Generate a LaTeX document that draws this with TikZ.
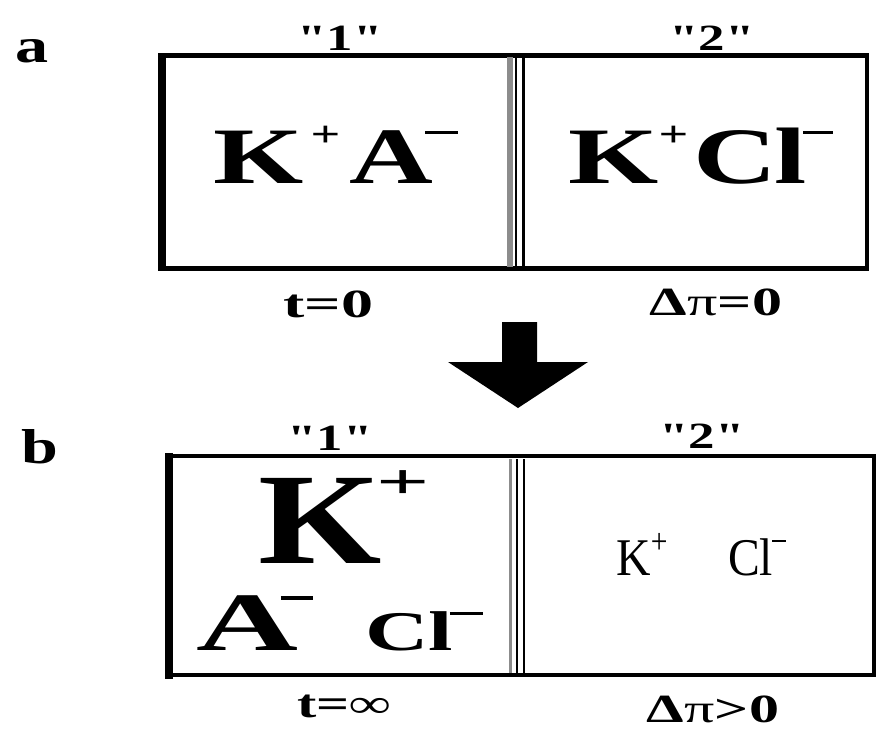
\documentclass[tikz,border=0pt]{standalone}
\usepackage{fontspec}
\setmainfont{Liberation Serif}
\usepackage{graphicx}
\newcommand\fsz[1]{\fontsize{#1pt}{#1pt}\selectfont}
\newcommand\qq{\XeTeXglyph\XeTeXcharglyph"22\relax}
\tikzset{
  frame/.style={line width=4.5pt},
  txt/.style={inner sep=0pt, outer sep=0pt},
  graywall/.style={fill=black!45},
}
\begin{document}
\begin{tikzpicture}[x=1pt,y=-1pt]
\useasboundingbox[fill=white] (0,0) rectangle (880,739);
% panel labels
\node[txt,anchor=base west] (pa) at (16,62) {\fsz{49}\bfseries\scalebox{1.35}[1]{a}};
\node[txt,anchor=base west] (pb) at (21,463) {\fsz{49}\bfseries\scalebox{1.35}[1]{b}};
% ---------- box a ----------
\draw[frame] (160,55.5) rectangle (867,268.5);
\fill (158,53) rectangle (166,271);
\fill[graywall] (507,57) rectangle (513,267);
\draw[line width=1.5pt] (516,57) -- (516,267);
\draw[line width=2.5pt] (523.5,57) -- (523.5,267);
\node[txt,anchor=base] (a1) at (340,50) {\fsz{37}\bfseries\scalebox{1.43}[1]{\qq1\qq}};
\node[txt,anchor=base] (a2) at (712,50) {\fsz{37}\bfseries\scalebox{1.43}[1]{\qq2\qq}};
\node[txt,anchor=base west] (aKA) at (213.5,183) {\fsz{80}\bfseries\scalebox{1.45}[1]{K\kern0.06em\raisebox{0.46em}{\scalebox{0.45}{+}}\kern0.08em A\kern-0.07em\raisebox{0.61em}{\rule{0.28em}{0.045em}}}};
\node[txt,anchor=base west] (aKC) at (568.5,183) {\fsz{80}\bfseries\scalebox{1.45}[1]{K\kern0.0em\raisebox{0.46em}{\scalebox{0.45}{+}}\kern0.04em C\kern-0.02em l\kern-0.03em\raisebox{0.61em}{\rule{0.26em}{0.045em}}}};
\node[txt,anchor=base] (at0) at (328.5,317) {\fsz{40}\bfseries\scalebox{1.6}[1]{t=0}};
\node[txt,anchor=base] (api0) at (716,315) {\fsz{40}\bfseries\scalebox{1.5}[1]{Δ{\mdseries π}=0}};
% ---------- arrow ----------
\fill (502,322) -- (537,322) -- (537,362) -- (588,362) -- (518,408) -- (448,362) -- (502,362) -- cycle;
% ---------- box b ----------
\draw[frame] (167,456) rectangle (874,675);
\fill (165,453) rectangle (173,679);
\fill[graywall] (509,459) rectangle (512,673);
\draw[line width=2pt] (517,459) -- (517,673);
\draw[line width=2pt] (524,459) -- (524,673);
\node[txt,anchor=base] (b1) at (330,450) {\fsz{37}\bfseries\scalebox{1.43}[1]{\qq1\qq}};
\node[txt,anchor=base] (b2) at (702,448) {\fsz{37}\bfseries\scalebox{1.43}[1]{\qq2\qq}};
\node[txt,anchor=base west] (bK) at (258,563) {\fsz{130}\bfseries\scalebox{1.22}[1]{K\kern-0.03em\raisebox{0.5em}{\scalebox{0.59}[0.38]{+}}}};
\node[txt,anchor=base west] (bA) at (196,650) {\fsz{83}\bfseries\scalebox{1.7}[1]{A\kern-0.12em\raisebox{0.6em}{\rule{0.23em}{0.05em}}}};
\node[txt,anchor=base west] (bC) at (365.5,650) {\fsz{56}\bfseries\scalebox{1.57}[1]{Cl\kern-0.04em\raisebox{0.625em}{\rule{0.375em}{0.055em}}}};
\node[txt,anchor=base west] (bKC) at (616.4,575) {\fsz{53}\scalebox{0.9}[1]{K\raisebox{0.415em}{\scalebox{0.62}[0.67]{+}}\kern1.27em Cl\kern-0.02em\raisebox{0.62em}{\rule{0.29em}{0.04em}}}};
\node[txt,anchor=base] (bt) at (344,717) {\fsz{40}\bfseries\scalebox{1.45}[1]{t=∞}};
\node[txt,anchor=base] (bpi) at (713,722) {\fsz{40}\bfseries\scalebox{1.5}[1]{Δ{\mdseries π}>0}};
\end{tikzpicture}
\end{document}
